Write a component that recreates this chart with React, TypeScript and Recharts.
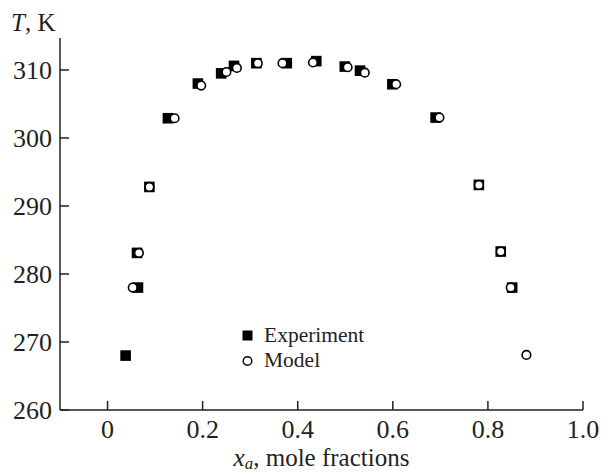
import { ScatterChart, Scatter, XAxis, YAxis, Legend } from 'recharts';

// Experiment (filled squares)
const expX = [0.038, 0.064, 0.062, 0.088, 0.127, 0.19, 0.239, 0.266, 0.313, 0.377, 0.439, 0.499, 0.531, 0.599, 0.69, 0.781, 0.827, 0.851];
const expT = [268, 278, 283.1, 292.8, 302.9, 308, 309.5, 310.6, 311, 311, 311.3, 310.5, 309.9, 307.9, 303, 293.1, 283.3, 278];

// Model (open circles)
const modelX = [0.053, 0.066, 0.088, 0.141, 0.197, 0.25, 0.272, 0.316, 0.368, 0.432, 0.505, 0.541, 0.607, 0.698, 0.781, 0.827, 0.848, 0.881];
const modelT = [278, 283.1, 292.8, 302.9, 307.7, 309.7, 310.3, 311, 311, 311.1, 310.4, 309.6, 307.9, 303, 293.1, 283.3, 278, 268.1];

const xTicks = [0, 0.2, 0.4, 0.6, 0.8, 1.0];
const yTicks = [260, 270, 280, 290, 300, 310];

const FONT = '"Liberation Serif", "DejaVu Serif", "Times New Roman", serif';
const INK = '#231f20';

const expData = expX.map((x, i) => ({ x, t: expT[i] }));
const modelData = modelX.map((x, i) => ({ x, t: modelT[i] }));

const fmtX = (v: number) => (v === 0 ? '0' : v.toFixed(1));

const txt = { fontFamily: FONT };

// ticks point inwards, label sits below/left of the axis
const XTick = ({ x, y, payload }: any) => (
  <g>
    <line x1={x} x2={x} y1={y - 13} y2={y - 22} stroke={INK} strokeWidth={1.5} />
    <text x={x} y={y + 15} textAnchor="middle" style={txt} fontSize={26} fill={INK}>
      {fmtX(payload.value)}
    </text>
  </g>
);

const YTick = ({ x, y, payload }: any) => (
  <g>
    <line x1={x + 8} x2={x + 17} y1={y} y2={y} stroke={INK} strokeWidth={1.5} />
    <text x={x} y={y} dy="0.34em" textAnchor="end" style={txt} fontSize={26} fill={INK}>
      {payload.value}
    </text>
  </g>
);

const Square = ({ cx, cy }: any) => <rect x={cx - 5.3} y={cy - 5.3} width={10.6} height={10.6} fill="#000" />;
const Ring = ({ cx, cy }: any) => <circle cx={cx} cy={cy} r={4.3} fill="#fff" stroke="#000" strokeWidth={1.6} />;

const LegendBox = () => (
  <div style={{ fontFamily: FONT, fontSize: 21.5, color: INK, lineHeight: '25px' }}>
    <div style={{ display: 'flex', alignItems: 'center' }}>
      <svg width={22} height={25}><rect x={1.5} y={7.5} width={10} height={10} fill="#000" /></svg>
      <span style={{ marginLeft: 1 }}>Experiment</span>
    </div>
    <div style={{ display: 'flex', alignItems: 'center' }}>
      <svg width={22} height={25}><circle cx={6.5} cy={13} r={4.3} fill="#fff" stroke="#000" strokeWidth={1.4} /></svg>
      <span style={{ marginLeft: 1 }}>Model</span>
    </div>
  </div>
);

const XTitle = ({ viewBox }: any) => (
  <text x={viewBox.x + viewBox.width / 2} y={viewBox.y + 56} textAnchor="middle" style={txt} fontSize={25} fill={INK}>
    <tspan fontStyle="italic">x</tspan>
    <tspan fontStyle="italic" fontSize={17} dy={3}>a</tspan>
    <tspan dy={-3}>, mole fractions</tspan>
  </text>
);

const YTitle = ({ viewBox }: any) => (
  <text x={viewBox.x + 11} y={viewBox.y - 7} style={txt} fontSize={25} fill={INK}>
    <tspan fontStyle="italic">T</tspan>
    <tspan>, K</tspan>
  </text>
);

export default function App() {
  return (
    <div style={{ position: 'absolute', left: 0, top: 0, background: '#fff', fontFamily: FONT }}>
      <ScatterChart width={602} height={473} margin={{ top: 38, right: 19, bottom: 0, left: 0 }}>
        <XAxis
          type="number"
          dataKey="x"
          domain={[-0.1, 1.0]}
          ticks={xTicks}
          tickSize={0}
          tickMargin={13}
          tickLine={false}
          tick={<XTick />}
          height={63}
          axisLine={{ stroke: INK, strokeWidth: 1.5 }}
          label={<XTitle />}
        />
        <YAxis
          type="number"
          dataKey="t"
          domain={[260, 314.7]}
          ticks={yTicks}
          tickSize={0}
          tickMargin={8}
          tickLine={false}
          tick={<YTick />}
          width={60}
          axisLine={{ stroke: INK, strokeWidth: 1.5 }}
          label={<YTitle />}
        />
        <Legend
          layout="vertical"
          align="center"
          verticalAlign="middle"
          content={<LegendBox />}
          wrapperStyle={{ left: 241, top: 323, width: 'auto' }}
        />
        <Scatter name="Experiment" data={expData} shape={<Square />} isAnimationActive={false} />
        <Scatter name="Model" data={modelData} shape={<Ring />} isAnimationActive={false} />
      </ScatterChart>
    </div>
  );
}
